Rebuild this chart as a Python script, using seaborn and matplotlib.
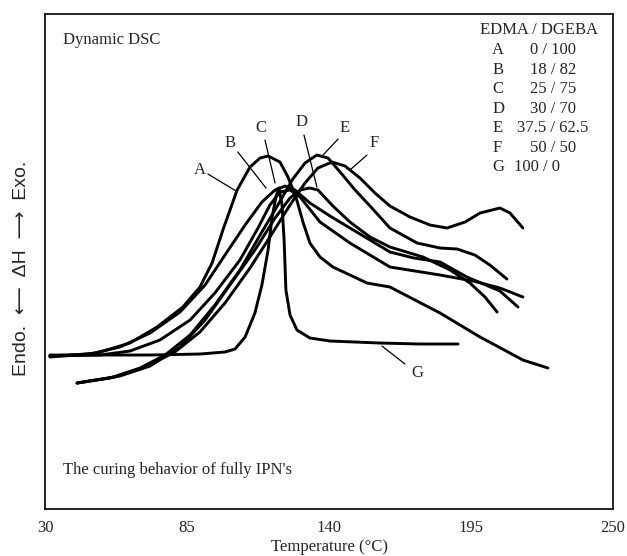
import matplotlib
matplotlib.use("Agg")
import matplotlib.pyplot as plt
import pandas as pd
import seaborn as sns

# DSC traces: temperature (deg C) and heat flow (arbitrary units, exo up)
temp_a = [31.9, 50.1, 62.9, 73.4, 83.4, 90.0, 94.7, 98.9, 104.4, 109.4, 113.3, 116.4, 121.0,
          124.1, 127.2, 129.9, 132.6, 136.5, 141.5, 154.7, 163.6, 183.0, 198.5, 215.1, 224.8]
heat_a = [152, 156, 166, 182, 202, 222, 246, 279, 319, 342, 351, 353, 347,
          332, 312, 287, 266, 252, 242, 226, 222, 196, 172, 149, 141]

temp_b = [31.9, 47.4, 59.0, 70.7, 82.3, 92.0, 99.7, 107.5, 114.0, 119.1, 123.0, 126.8,
          132.6, 140.4, 148.1, 155.9, 163.6, 172.9, 183.0, 193.4, 206.2, 213.2]
heat_b = [153, 155, 162, 176, 197, 224, 254, 284, 307, 319, 323, 319,
          306, 293, 281, 269, 257, 251, 247, 232, 218, 202]

temp_c = [31.9, 51.3, 62.9, 74.5, 86.2, 95.8, 105.5, 112.5, 117.1, 121.0, 124.9, 128.8,
          136.5, 148.1, 163.6, 183.0, 195.8, 206.2, 215.1]
heat_c = [153, 154, 158, 169, 189, 216, 249, 281, 304, 317, 319, 312,
          287, 266, 242, 234, 228, 221, 212]

temp_d = [42.4, 59.0, 70.7, 82.3, 92.0, 101.6, 111.3, 119.1, 124.9, 128.8, 132.6, 135.7,
          141.5, 148.1, 155.9, 163.6, 176.4, 186.9, 194.6, 200.4, 205.1]
heat_d = [126, 133, 143, 162, 189, 224, 259, 291, 311, 319, 321, 319,
          303, 287, 272, 262, 252, 239, 226, 212, 197]

temp_e = [42.4, 55.2, 66.8, 76.5, 86.2, 95.8, 105.5, 113.3, 120.2, 125.7, 130.7, 135.3,
          139.6, 144.3, 150.1, 156.6, 163.6, 174.1, 183.0, 189.6, 196.5, 202.3, 208.9]
heat_e = [126, 131, 141, 154, 174, 204, 239, 274, 304, 329, 346, 354,
          351, 337, 319, 301, 281, 266, 261, 260, 254, 244, 230]

temp_f = [42.4, 57.1, 68.7, 80.3, 90.0, 99.7, 109.4, 117.1, 124.9, 130.7, 135.7, 141.2,
          146.2, 152.0, 157.8, 163.6, 171.4, 179.1, 185.7, 192.7, 198.5, 206.2, 210.1, 215.1]
heat_f = [126, 132, 142, 157, 177, 206, 241, 272, 304, 326, 341, 347,
          343, 331, 316, 303, 292, 284, 281, 287, 296, 301, 296, 281]

temp_g = [31.9, 51.3, 70.7, 90.0, 99.7, 103.6, 107.5, 111.3, 114.0, 116.4, 117.9, 119.5,
          120.6, 121.8, 122.6, 123.3, 124.9, 127.6, 132.6, 140.4, 159.7, 175.2, 190.0]
heat_g = [154, 154, 154, 155, 157, 160, 172, 196, 224, 259, 291, 313,
          321, 304, 269, 219, 194, 179, 171, 168, 166, 165, 165]

samples = ["A", "B", "C", "D", "E", "F", "G"]
ratios = ["0 / 100", "18 / 82", "25 / 75", "30 / 70", "37.5 / 62.5", "50 / 50", "100 / 0"]
xticks = [30, 85, 140, 195, 250]

# where the letter labels sit and where their leader lines point (data coords)
label_pos = {"A": (90.0, 339), "B": (101.6, 366), "C": (113.7, 381), "D": (129.5, 387),
             "E": (146.2, 381), "F": (157.4, 366), "G": (174.1, 136)}
leaders = {"A": ((93.1, 335), (104.0, 318)), "B": ((104.7, 357), (115.6, 321)),
           "C": ((115.2, 369), (119.1, 326)), "D": ((130.3, 374), (135.3, 322)),
           "E": ((143.5, 370), (137.7, 354)), "F": ((154.7, 354), (148.1, 339)),
           "G": ((169.4, 145), (160.5, 163))}

traces = {"A": (temp_a, heat_a), "B": (temp_b, heat_b), "C": (temp_c, heat_c),
          "D": (temp_d, heat_d), "E": (temp_e, heat_e), "F": (temp_f, heat_f),
          "G": (temp_g, heat_g)}
df = pd.concat([pd.DataFrame({"T": t, "H": h, "s": k}) for k, (t, h) in traces.items()])

sns.set_theme(style="white")
plt.rcParams["font.family"] = ["Liberation Serif", "DejaVu Serif", "DejaVu Sans"]

fig = plt.figure(figsize=(6.27, 5.56), dpi=100)
ax = fig.add_axes([0.0718, 0.0845, 0.9059, 0.8903])

sns.lineplot(data=df, x="T", y="H", hue="s", palette=["black"] * 7, estimator=None,
             legend=False, lw=2.1, ax=ax, solid_joinstyle="round", solid_capstyle="round")

for k in samples:
    ax.text(*label_pos[k], k, fontsize=12, ha="center", va="center")
    (x0, y0), (x1, y1) = leaders[k]
    ax.plot([x0, x1], [y0, y1], color="black", lw=0.9)

ax.set_xlim(30, 250)
ax.set_ylim(0, 495)
ax.set_xticks(xticks)
ax.set_xticklabels([str(v) for v in xticks], fontsize=12)
ax.set_yticks([])
ax.tick_params(axis="x", direction="in", length=6, width=1, color="black", pad=8)
for sp in ax.spines.values():
    sp.set_color("black")
    sp.set_linewidth(1.2)

ax.set_xlabel("Temperature (°C)", fontsize=12, labelpad=2)
ax.set_ylabel("")
fig.text(0.035, 0.518, "Endo.  \u27f5  \u0394H  \u27f6  Exo.", rotation=90,
         fontsize=14, ha="center", va="center", family=["Liberation Sans", "DejaVu Sans"])

ax.text(0.032, 0.947, "Dynamic DSC", transform=ax.transAxes, fontsize=12, va="center")
ax.text(0.032, 0.079, "The curing behavior of fully IPN's", transform=ax.transAxes,
        fontsize=12, va="center")

# composition key in the upper right corner
ax.text(0.974, 0.968, "EDMA / DGEBA", transform=ax.transAxes, fontsize=12,
        ha="right", va="center")
for i, (k, r) in enumerate(zip(samples, ratios)):
    y = 0.927 - i * 0.0394
    ax.text(0.787, y, k, transform=ax.transAxes, fontsize=12, va="center")
    ax.text(0.866 if k == "G" else 0.894, y, r, transform=ax.transAxes, fontsize=12,
            ha="center", va="center")

fig.savefig("out.png", dpi=100)
